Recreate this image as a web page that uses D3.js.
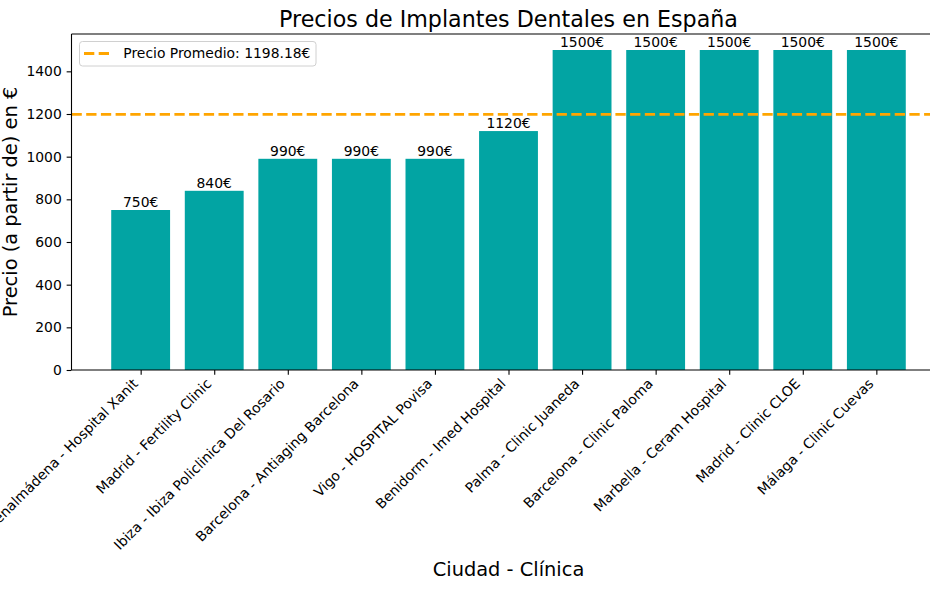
<!DOCTYPE html>
<html><head><meta charset="utf-8">
<script src="https://cdn.jsdelivr.net/npm/d3@7"></script>
<style>
html,body{margin:0;padding:0;background:#fff;}
svg{display:block;font-family:"DejaVu Sans",sans-serif;}
</style></head>
<body>
<script>
const categories = [
  "Benalmádena - Hospital Xanit",
  "Madrid - Fertility Clinic",
  "Ibiza - Ibiza Policlinica Del Rosario",
  "Barcelona - Antiaging Barcelona",
  "Vigo - HOSPITAL Povisa",
  "Benidorm - Imed Hospital",
  "Palma - Clinic Juaneda",
  "Barcelona - Clinic Paloma",
  "Marbella - Ceram Hospital",
  "Madrid - Clinic CLOE",
  "Málaga - Clinic Cuevas"
];
const prices = [750, 840, 990, 990, 990, 1120, 1500, 1500, 1500, 1500, 1500];
const yTicks = [0, 200, 400, 600, 800, 1000, 1200, 1400];
const average = d3.mean(prices);
const titleText = "Precios de Implantes Dentales en España";
const xLabel = "Ciudad - Clínica";
const yLabel = "Precio (a partir de) en €";

const W = 930, H = 590;
const mL = 71.5, mR = 945.5, mT = 34, mB = 370;
const svg = d3.select("body").append("svg").attr("width", W).attr("height", H);

const n = categories.length;
const x = d3.scaleLinear().domain([-0.94, n - 1 + 0.94]).range([mL, mR]);
const y = d3.scaleLinear().domain([0, 1575]).range([mB, mT]);
const barW = x(0.8) - x(0);

// bars
svg.append("g").selectAll("rect").data(prices).join("rect")
  .attr("x", (d, i) => x(i) - barW / 2)
  .attr("y", d => y(d))
  .attr("width", barW)
  .attr("height", d => y(0) - y(d))
  .attr("fill", "#02a4a3");

// value labels
svg.append("g").selectAll("text").data(prices).join("text")
  .attr("x", (d, i) => x(i))
  .attr("y", d => y(d) - 3.3)
  .attr("text-anchor", "middle")
  .attr("font-size", "13.9px")
  .attr("fill", "#000")
  .text(d => d + "€");

// average line
svg.append("line")
  .attr("x1", mL).attr("x2", mR)
  .attr("y1", y(average)).attr("y2", y(average))
  .attr("stroke", "#ffa500").attr("stroke-width", 2.78)
  .attr("stroke-dasharray", "10.3,4.4");

// y axis
const yAxis = d3.axisLeft(y).tickValues(yTicks).tickSize(4.86).tickPadding(4.86).tickFormat(d3.format("d"));
const gy = svg.append("g").attr("transform", `translate(${mL},0)`).call(yAxis);
gy.select(".domain").remove();
gy.selectAll("line").attr("stroke", "#000").attr("stroke-width", 1.1);
gy.selectAll("text").attr("font-size", "13.9px").attr("font-family", "DejaVu Sans").attr("fill", "#000");

// x axis
const xAxis = d3.axisBottom(x).tickValues(d3.range(n)).tickSize(4.86).tickFormat(i => categories[i]);
const gx = svg.append("g").attr("transform", `translate(0,${mB})`).call(xAxis);
gx.select(".domain").remove();
gx.selectAll("line").attr("stroke", "#000").attr("stroke-width", 1.1);
gx.selectAll("text")
  .attr("font-size", "13.9px").attr("font-family", "DejaVu Sans").attr("fill", "#000")
  .attr("text-anchor", "end")
  .attr("x", null).attr("y", null).attr("dy", null)
  .attr("transform", "translate(-2.4,14.6) rotate(-45)");

// spines
svg.append("line").attr("x1", mL).attr("x2", mL).attr("y1", mT).attr("y2", mB).attr("stroke", "#000").attr("stroke-width", 1.1);
svg.append("line").attr("x1", mL).attr("x2", mR).attr("y1", mB).attr("y2", mB).attr("stroke", "#000").attr("stroke-width", 1.1);
svg.append("line").attr("x1", mL).attr("x2", mR).attr("y1", mT).attr("y2", mT).attr("stroke", "#000").attr("stroke-width", 1.1);
svg.append("line").attr("x1", mR).attr("x2", mR).attr("y1", mT).attr("y2", mB).attr("stroke", "#000").attr("stroke-width", 1.1);

// title
svg.append("text").attr("x", (mL + mR) / 2).attr("y", 26.5)
  .attr("text-anchor", "middle").attr("font-size", "22.2px").attr("fill", "#000").text(titleText);
// axis labels
svg.append("text").attr("x", (mL + mR) / 2).attr("y", 576)
  .attr("text-anchor", "middle").attr("font-size", "19.4px").attr("fill", "#000").text(xLabel);
svg.append("text").attr("transform", `translate(16.5,${(mT + mB) / 2}) rotate(-90)`)
  .attr("text-anchor", "middle").attr("font-size", "19.4px").attr("fill", "#000").text(yLabel);

// legend
const lg = svg.append("g");
lg.append("rect").attr("x", 79.5).attr("y", 41.5).attr("width", 236.5).attr("height", 24.5)
  .attr("rx", 3).attr("fill", "#fff").attr("fill-opacity", 0.8).attr("stroke", "#d0d0d0").attr("stroke-width", 1);
lg.append("line").attr("x1", 84).attr("x2", 111).attr("y1", 53.5).attr("y2", 53.5)
  .attr("stroke", "#ffa500").attr("stroke-width", 2.78).attr("stroke-dasharray", "10.3,4.4");
lg.append("text").attr("x", 123.3).attr("y", 58.3).attr("font-size", "13.9px").attr("fill", "#000")
  .text(`Precio Promedio: ${average.toFixed(2)}€`);
</script>
</body></html>
